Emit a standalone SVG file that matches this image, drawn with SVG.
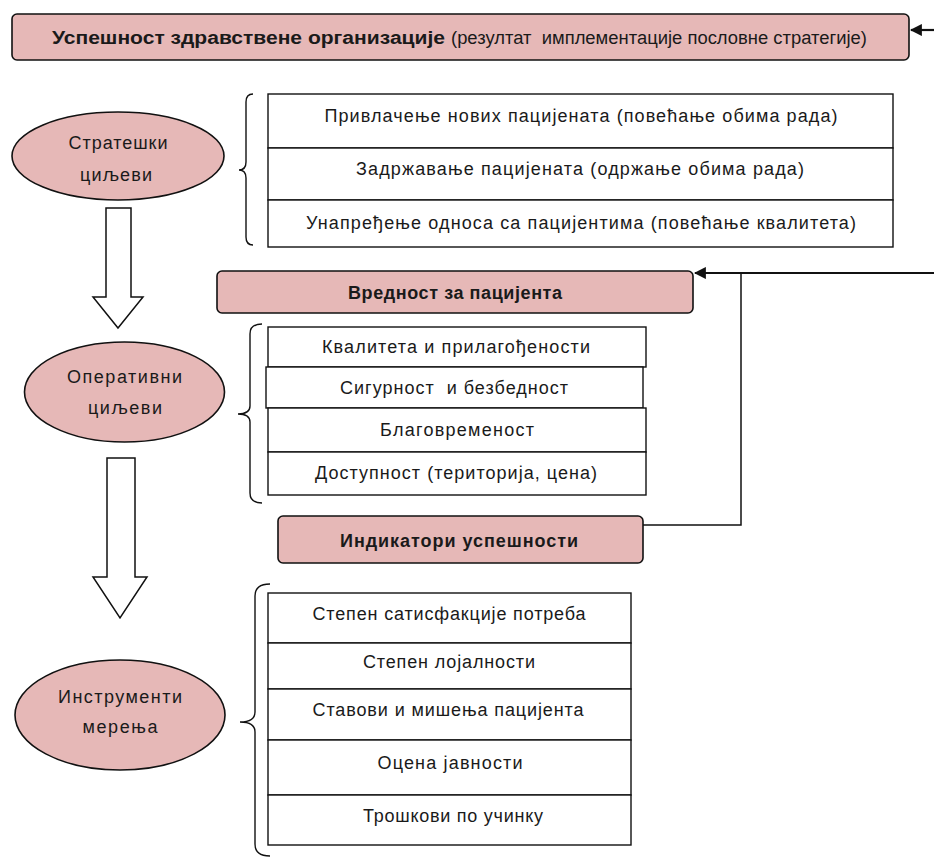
<svg xmlns="http://www.w3.org/2000/svg" width="934" height="858" viewBox="0 0 934 858">
<defs>
<style>
.bar{fill:#e6b8b7;stroke:#111;stroke-width:1.6}
.ell{fill:#e6b8b7;stroke:#111;stroke-width:1.6}
.cell{fill:#fff;stroke:#111;stroke-width:1.4}
.brace{fill:none;stroke:#111;stroke-width:1.4}
.t{font-family:"Liberation Sans",Arial,sans-serif;font-size:18px;fill:#1a1a1a;text-anchor:middle}
.tl{font-family:"Liberation Sans",Arial,sans-serif;font-size:18px;fill:#1a1a1a}
.b{font-weight:bold}
.ln{fill:none;stroke:#111;stroke-width:2.2}
.thin{fill:none;stroke:#111;stroke-width:1.5}
.blk{fill:#fff;stroke:#111;stroke-width:1.5}
</style>
<marker id="ah" viewBox="0 0 10 10" refX="9" refY="5" markerWidth="5.5" markerHeight="5.5" orient="auto" markerUnits="strokeWidth">
<path d="M0,0 L10,5 L0,10 z" fill="#111"/>
</marker>
</defs>
<rect width="934" height="858" fill="#fff"/>

<g id="top-bar">
<rect class="bar" x="12" y="14" width="897" height="46" rx="5"/>
<text class="tl b" x="52" y="44" textLength="393" lengthAdjust="spacingAndGlyphs">Успешност здравствене организације</text>
<text class="tl" x="451" y="44" textLength="416" lengthAdjust="spacingAndGlyphs" xml:space="preserve">(резултат  имплементације пословне стратегије)</text>
</g>

<g id="strateski-ciljevi">
<ellipse class="ell" cx="118" cy="156" rx="106" ry="44"/>
<text class="t" x="118" y="149" textLength="99">Стратешки</text>
<text class="t" x="116" y="181" textLength="72">циљеви</text>
</g>

<g id="brace-1"><path class="brace" d="M253,94 Q246,94 246,102 L246,162 Q246,170 239,170 Q246,170 246,178 L246,237 Q246,245 253,245"/></g>

<g id="strateski-lista">
<rect class="cell" x="268" y="94" width="625" height="54"/>
<rect class="cell" x="268" y="148" width="625" height="52"/>
<rect class="cell" x="268" y="200" width="625" height="47"/>
<text class="t" x="581" y="122" textLength="513">Привлачење нових пацијената (повећање обима рада)</text>
<text class="t" x="580" y="175" textLength="448">Задржавање пацијената (одржање обима рада)</text>
<text class="t" x="581" y="229" textLength="550">Унапређење односа са пацијентима (повећање квалитета)</text>
</g>

<g id="vrednost-za-pacijenta">
<rect class="bar" x="217" y="271" width="476" height="42" rx="5"/>
<text class="t b" x="455" y="299" textLength="214">Вредност за пацијента</text>
</g>

<g id="operativni-ciljevi">
<ellipse class="ell" cx="124.5" cy="392" rx="100" ry="50"/>
<text class="t" x="124.5" y="383" textLength="115">Оперативни</text>
<text class="t" x="125" y="414" textLength="74">циљеви</text>
</g>

<g id="brace-2"><path class="brace" d="M262,324 Q250,324 250,334 L250,406 Q250,414 238,414 Q250,414 250,422 L250,493 Q250,503 262,503"/></g>

<g id="operativni-lista">
<rect class="cell" x="268" y="327" width="378" height="40"/>
<rect class="cell" x="266" y="367" width="377" height="41"/>
<rect class="cell" x="268" y="408" width="378" height="44"/>
<rect class="cell" x="268" y="452" width="378" height="43"/>
<text class="t" x="456" y="353" textLength="268">Квалитета и прилагођености</text>
<text class="t" x="454" y="394" textLength="228" xml:space="preserve">Сигурност  и безбедност</text>
<text class="t" x="457" y="436" textLength="154">Благовременост</text>
<text class="t" x="456" y="479" textLength="282">Доступност (територија, цена)</text>
</g>

<g id="indikatori-uspesnosti">
<rect class="bar" x="278" y="516" width="365" height="47" rx="5"/>
<text class="t b" x="459" y="547" textLength="238">Индикатори успешности</text>
</g>

<g id="instrumenti-merenja">
<ellipse class="ell" cx="120" cy="715" rx="105" ry="55"/>
<text class="t" x="120" y="703" textLength="124">Инструменти</text>
<text class="t" x="120" y="733" textLength="75">мерења</text>
</g>

<g id="brace-3"><path class="brace" d="M270,584 Q255,584 255,596 L255,712 Q255,722 240,722 Q255,722 255,732 L255,844 Q255,856 270,856"/></g>

<g id="instrumenti-lista">
<rect class="cell" x="268" y="593" width="363" height="50"/>
<rect class="cell" x="268" y="643" width="363" height="46"/>
<rect class="cell" x="268" y="689" width="363" height="51"/>
<rect class="cell" x="268" y="740" width="363" height="55"/>
<rect class="cell" x="268" y="795" width="363" height="50"/>
<text class="t" x="449" y="620" textLength="273">Степен сатисфакције потреба</text>
<text class="t" x="449" y="668" textLength="172">Степен лојалности</text>
<text class="t" x="448" y="716" textLength="271">Ставови и мишења пацијента</text>
<text class="t" x="450" y="769" textLength="145">Оцена јавности</text>
<text class="t" x="453" y="822" textLength="180">Трошкови по учинку</text>
</g>

<g id="connectors">
<polygon class="blk" points="106,208 131,208 131,297 143,297 118,328 93,297 106,297"/>
<polygon class="blk" points="107,458 135,458 135,577 147,577 120,618 93,577 107,577"/>
<line class="ln" x1="934" y1="30" x2="911" y2="30" marker-end="url(#ah)"/>
<line class="ln" x1="934" y1="273" x2="695" y2="273" marker-end="url(#ah)"/>
<polyline class="thin" points="643,525 741,525 741,273"/>
</g>
</svg>
